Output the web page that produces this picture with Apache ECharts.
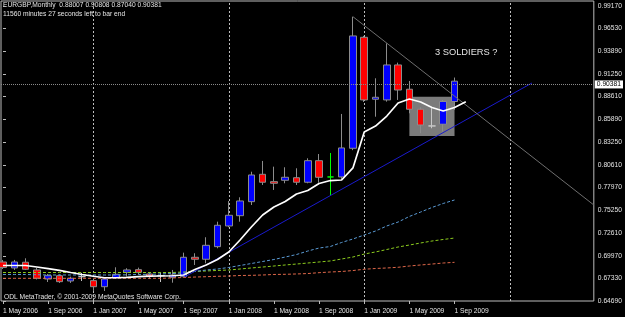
<!DOCTYPE html>
<html><head><meta charset="utf-8">
<script src="https://cdn.jsdelivr.net/npm/echarts@6/dist/echarts.min.js"></script>
<style>html,body{margin:0;padding:0;background:#000;}#c{width:625px;height:317px;}</style>
</head><body><div id="c"></div>
<script>
// Monthly bars, May 2006 .. Sep 2009 (index 0..40)
const months = ['2006-05','2006-06','2006-07','2006-08','2006-09','2006-10','2006-11','2006-12',
  '2007-01','2007-02','2007-03','2007-04','2007-05','2007-06','2007-07','2007-08','2007-09','2007-10','2007-11','2007-12',
  '2008-01','2008-02','2008-03','2008-04','2008-05','2008-06','2008-07','2008-08','2008-09','2008-10','2008-11','2008-12',
  '2009-01','2009-02','2009-03','2009-04','2009-05','2009-06','2009-07','2009-08','2009-09'];
const opens = [0.6925,0.6855,0.6922,0.6832,0.6726,0.6765,0.6703,0.6753,0.6707,0.6636,0.6742,0.6805,0.6835,0.6785,0.6765,0.6746,0.6753,0.6980,0.6957,0.7104,0.7346,0.7466,0.7630,0.7950,0.7864,0.7880,0.7910,0.7857,0.8109,0.7919,0.7919,0.8254,0.9551,0.8827,0.8819,0.9228,0.8944,0.8710,0.8515,0.8535,0.88007];
const closes = [0.6861,0.6925,0.6840,0.6735,0.6765,0.6695,0.6735,0.6753,0.6636,0.6726,0.6781,0.6832,0.6805,0.6756,0.6765,0.6773,0.6980,0.6957,0.7120,0.7354,0.7471,0.7638,0.7942,0.7857,0.7845,0.7915,0.7857,0.8109,0.7915,0.7919,0.8258,0.9567,0.8819,0.8850,0.9228,0.8935,0.8710,0.8526,0.8515,0.8801,0.90381];
const lows = [0.6843,0.6832,0.6832,0.6721,0.6691,0.6680,0.6680,0.6703,0.6586,0.6586,0.6726,0.6753,0.6781,0.6726,0.6691,0.6683,0.6750,0.6890,0.6910,0.7085,0.7331,0.7396,0.7591,0.7825,0.7767,0.7845,0.7825,0.7845,0.7852,0.7708,0.7884,0.8232,0.8795,0.8623,0.8799,0.8819,0.8663,0.8429,0.8488,0.8448,0.87040];
const highs = [0.6949,0.6949,0.6968,0.6855,0.6785,0.6779,0.6753,0.6797,0.6721,0.6742,0.6863,0.6852,0.6859,0.6808,0.6797,0.6832,0.7034,0.7027,0.7214,0.7396,0.7638,0.7681,0.7980,0.8106,0.8039,0.8032,0.8020,0.8137,0.8187,0.8199,0.8655,0.9792,0.9567,0.9072,0.9481,0.9255,0.9041,0.8733,0.8722,0.8819,0.90808];
// Moving averages (white one is shifted one bar forward)
const maWhite = [0.6884,0.6884,0.6884,0.6866,0.6847,0.6826,0.6802,0.6779,0.6758,0.6741,0.6741,0.6746,0.6753,0.6759,0.6761,0.6764,0.6773,0.6837,0.6890,0.6954,0.7042,0.7182,0.7334,0.7474,0.7568,0.7632,0.7720,0.7761,0.7842,0.7877,0.7883,0.8024,0.8444,0.8514,0.8631,0.8783,0.8830,0.8795,0.8731,0.8690,0.8731,0.8798];
const maBlue = [0.6779,0.6779,0.6779,0.6776,0.6773,0.6773,0.6773,0.6773,0.6773,0.6773,0.6773,0.6775,0.6779,0.6781,0.6785,0.6790,0.6796,0.6814,0.6831,0.6843,0.6861,0.6884,0.6907,0.6931,0.6954,0.6983,0.7012,0.7053,0.7088,0.7106,0.7153,0.7194,0.7240,0.7287,0.7346,0.7392,0.7457,0.7509,0.7562,0.7609,0.7650];
const maGreen = [0.6802,0.6802,0.6802,0.6802,0.6802,0.6802,0.6802,0.6802,0.6802,0.6802,0.6802,0.6802,0.6802,0.6802,0.6802,0.6802,0.6808,0.6814,0.6820,0.6826,0.6831,0.6843,0.6855,0.6866,0.6878,0.6890,0.6901,0.6913,0.6925,0.6937,0.6960,0.6983,0.7018,0.7042,0.7071,0.7100,0.7123,0.7147,0.7170,0.7188,0.7205];
const maOrange = [0.6734,0.6734,0.6734,0.6734,0.6734,0.6734,0.6734,0.6734,0.6734,0.6734,0.6734,0.6734,0.6734,0.6734,0.6734,0.6738,0.6744,0.6749,0.6753,0.6758,0.6761,0.6767,0.6769,0.6773,0.6779,0.6781,0.6785,0.6790,0.6800,0.6808,0.6814,0.6825,0.6840,0.6849,0.6855,0.6863,0.6878,0.6890,0.6901,0.6913,0.6921];
// Drawn objects (bar index, price)
const trendBlue = [[16.09,0.6750],[46.86,0.9017]];
const trendGrey = [[31,0.9792],[52.34,0.7591]];
const boxX = [36,40];
const boxY = [0.8398,0.8857];
const separators = [8,20,32,44.93];
// Axis ticks
const xTickIdx = [0,4,8,12,16,20,24,28,32,36,40];
const xTickLabels = ['1 May 2006','1 Sep 2006','1 Jan 2007','1 May 2007','1 Sep 2007','1 Jan 2008','1 May 2008','1 Sep 2008','1 Jan 2009','1 May 2009','1 Sep 2009'];
const yTicks = [0.64690,0.67330,0.69970,0.72610,0.75250,0.77970,0.80610,0.83250,0.85890,0.88610,0.91250,0.93890,0.96530,0.99170];

const FONT = 'Liberation Sans';
const FG = '#e4e4e4';
const last = closes.length - 1;

const candleData = months.map((m, i) => {
  const item = { value: [i, opens[i], closes[i], lows[i], highs[i]] };
  if (i === 29) item.itemStyle = { color: '#00ff00', color0: '#00ff00', borderColor: '#00ff00', borderColor0: '#00ff00', borderColorDoji: '#00ff00' };
  return item;
});
const line = (arr) => arr.map((v, i) => [i, v]);

const chart = echarts.init(document.getElementById('c'), null, { renderer: 'canvas' });
chart.setOption({
  animation: false,
  backgroundColor: '#000',
  grid: { left: 1, top: 1, width: 594, height: 300, show: true, borderColor: '#bdbdbd', borderWidth: 1, backgroundColor: '#000' },
  xAxis: {
    type: 'value', min: -0.177, max: 52.34,
    axisLine: { show: false }, splitLine: { show: false },
    axisTick: { show: true, customValues: xTickIdx, length: 3, lineStyle: { color: '#bdbdbd' } },
    axisLabel: { customValues: xTickIdx, formatter: v => xTickLabels[Math.round(v / 4)], color: FG, fontSize: 6.7, fontFamily: FONT, align: 'left', margin: 6.5 }
  },
  yAxis: {
    type: 'value', position: 'right', min: 0.6469, max: 0.99753,
    axisLine: { show: false }, splitLine: { show: false },
    axisTick: { show: true, customValues: yTicks, length: 3, lineStyle: { color: '#bdbdbd' } },
    axisLabel: { customValues: yTicks, formatter: v => v.toFixed(5), color: FG, fontSize: 6.7, fontFamily: FONT, margin: 4 }
  },
  series: [
    {
      type: 'candlestick', name: 'EURGBP', data: candleData, barWidth: 7, z: 2,
      itemStyle: { color: '#0000ff', color0: '#ff0000', borderColor: '#8c8c8c', borderColor0: '#8c8c8c', borderColorDoji: '#c8c8c8', borderWidth: 1 },
      markLine: {
        z: 1, silent: true, symbol: 'none', label: { show: false },
        lineStyle: { color: '#bdbdbd', type: [2, 2], width: 1 },
        data: separators.map(s => ({ xAxis: s }))
      },
      markArea: {
        silent: true, z: 1,
        itemStyle: { color: '#7b7b7b' },
        data: [[{ xAxis: boxX[0], yAxis: boxY[1] }, { xAxis: boxX[1], yAxis: boxY[0] }]]
      }
    },
    { type: 'line', data: line(maOrange), showSymbol: false, z: 3, lineStyle: { color: '#e0684a', width: 1, type: [3, 2] } },
    { type: 'line', data: line(maGreen), showSymbol: false, z: 3, lineStyle: { color: '#8ccc1e', width: 1, type: [3, 2] } },
    { type: 'line', data: line(maBlue), showSymbol: false, z: 3, lineStyle: { color: '#5b9bd5', width: 1, type: [3, 2] } },
    { type: 'line', data: trendBlue, showSymbol: false, z: 3, lineStyle: { color: '#1a1acc', width: 1 } },
    { type: 'line', data: trendGrey, showSymbol: false, z: 3, lineStyle: { color: '#6e6e6e', width: 1 } },
    {
      type: 'line', data: line(maWhite), showSymbol: false, z: 4, lineStyle: { color: '#ffffff', width: 1.7 },
      markLine: {
        silent: true, symbol: 'none',
        lineStyle: { color: '#8a8a8a', type: [1, 1], width: 1 },
        label: { position: 'end', formatter: closes[last].toFixed(5), backgroundColor: '#ffffff', color: '#000', fontSize: 6.7, fontFamily: FONT, padding: [1, 2, 0, 2], distance: 1 },
        data: [{ yAxis: closes[last] }]
      }
    }
  ],
  graphic: [
    { type: 'text', left: 3, top: 2, style: { text: 'EURGBP,Monthly  ' + [opens[last], highs[last], lows[last], closes[last]].map(v => v.toFixed(5)).join(' '), fill: FG, font: '6.7px "Liberation Sans"' } },
    { type: 'text', left: 3, top: 11, style: { text: '11560 minutes 27 seconds left to bar end', fill: FG, font: '6.7px "Liberation Sans"' } },
    { type: 'text', left: 4, top: 294, style: { text: 'ODL MetaTrader, © 2001-2009 MetaQuotes Software Corp.', fill: FG, font: '6.7px "Liberation Sans"' } },
    { type: 'text', left: 435, top: 48, style: { text: '3 SOLDIERS ?', fill: FG, font: '9.3px "Liberation Sans"' } }
  ]
});
</script></body></html>
